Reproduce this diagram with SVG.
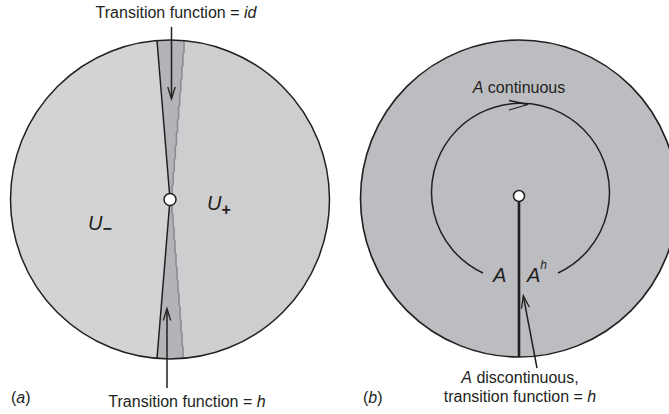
<svg xmlns="http://www.w3.org/2000/svg" width="669" height="414" viewBox="0 0 669 414">
<style>
.t{font-family:"Liberation Sans",Arial,sans-serif;font-size:16px;fill:#231f20}
.it{font-style:italic}
.big{font-family:"Liberation Sans",Arial,sans-serif;font-size:20px;font-style:italic;fill:#231f20}
.ln{stroke:#231f20;stroke-width:1.5;fill:none}
.ah{stroke:#231f20;stroke-width:1.3;fill:none;stroke-linejoin:miter}
</style>
<defs>
<clipPath id="cl"><circle cx="170" cy="199.5" r="159.5"/></clipPath>
</defs>
<g id="panel-a">
<g clip-path="url(#cl)">
<rect x="0" y="0" width="340" height="414" fill="#cdced0"/>
<polygon points="0,0 160,0 157,40.5 170,199.5 157,358.5 160,414 0,414" fill="#d2d3d5"/>
<polygon id="strip" fill="#b3b4b7" points="157,40.5 157,30 184,30 184,52 182.9,54.2 182.9,65.2 181.8,67.4 181.8,78.4 180.75,80.6 180.75,91.6 179.7,93.8 179.7,104.8 178.6,107 178.6,118 177.5,120.2 177.5,131.2 176.4,133.4 176.4,144.4 175.3,146.6 175.3,157.6 174.25,159.8 174.25,170.8 173.2,173 173.2,184 172.1,186.2 172.1,197.2 171,199.5 172,201.7 172,212.7 173,214.9 173,225.9 174,228.1 174,239.1 175,241.3 175,252.3 176,254.5 176,265.5 177,267.7 177,278.7 178,280.9 178,291.9 179,294.1 179,305.1 180,307.3 180,318.3 181,320.5 181,331.5 182,333.7 182,344.7 183,346.9 183,370 157,370 157,358.5 170,199.5"/>
<polyline fill="none" stroke="#8b8c8f" stroke-width="1.6" points="184,30 184,52 182.9,54.2 182.9,65.2 181.8,67.4 181.8,78.4 180.75,80.6 180.75,91.6 179.7,93.8 179.7,104.8 178.6,107 178.6,118 177.5,120.2 177.5,131.2 176.4,133.4 176.4,144.4 175.3,146.6 175.3,157.6 174.25,159.8 174.25,170.8 173.2,173 173.2,184 172.1,186.2 172.1,197.2 171,199.5 172,201.7 172,212.7 173,214.9 173,225.9 174,228.1 174,239.1 175,241.3 175,252.3 176,254.5 176,265.5 177,267.7 177,278.7 178,280.9 178,291.9 179,294.1 179,305.1 180,307.3 180,318.3 181,320.5 181,331.5 182,333.7 182,344.7 183,346.9 183,370"/>
<polyline class="ln" points="157,40.5 170,199.5 157,358.5"/>
</g>
<circle cx="170" cy="199.5" r="159.5" class="ln" stroke-width="1.6"/>
<circle cx="170" cy="199.5" r="6" fill="#fff" stroke="#231f20" stroke-width="1.5"/>
<text class="big" x="88" y="230">U<tspan font-style="normal" font-weight="bold" font-size="16" dy="4">−</tspan></text>
<text class="big" x="207" y="210">U<tspan font-style="normal" font-weight="bold" font-size="16" dy="5">+</tspan></text>
<text class="t" x="11" y="403">(<tspan class="it">a</tspan>)</text>
</g>
<g id="panel-b">
<circle cx="519" cy="198.5" r="158.5" fill="#bcbdc0" stroke="#231f20" stroke-width="1.6"/>
<path class="ln" d="M483 273 A89 89 0 1 1 558 273"/>
<line x1="519" y1="196" x2="519" y2="357" stroke="#231f20" stroke-width="2.6"/>
<circle cx="519" cy="196" r="5.5" fill="#fff" stroke="#231f20" stroke-width="1.5"/>
<text class="big" x="493" y="282">A</text>
<text class="big" x="527" y="282">A<tspan font-size="12" dy="-13">h</tspan></text>
<text class="t" x="519" y="93" text-anchor="middle"><tspan class="it">A</tspan> continuous</text>
<text class="t" x="520" y="383" text-anchor="middle"><tspan class="it">A</tspan> discontinuous,</text>
<text class="t" x="520" y="402" text-anchor="middle">transition function = <tspan class="it">h</tspan></text>
<text class="t" x="363" y="403">(<tspan class="it">b</tspan>)</text>
</g>
<g id="connectors">
<line class="ln" x1="171.5" y1="27" x2="171.5" y2="98"/>
<polyline class="ah" points="167.8,87 171.5,99 175.2,87"/>
<line class="ln" x1="167" y1="388" x2="167" y2="309"/>
<polyline class="ah" points="163.3,320.5 167,308.5 170.7,320.5"/>
<polyline class="ah" points="509,100.5 528,104.5 509,110"/>
<line class="ln" x1="537" y1="368" x2="523.5" y2="297"/>
<polyline class="ah" points="529.4,307.2 523.3,295.5 521.5,308.7"/>
</g>
<text class="t" x="176" y="18" text-anchor="middle">Transition function = <tspan class="it">id</tspan></text>
<text class="t" x="187" y="407" text-anchor="middle">Transition function = <tspan class="it">h</tspan></text>
</svg>
